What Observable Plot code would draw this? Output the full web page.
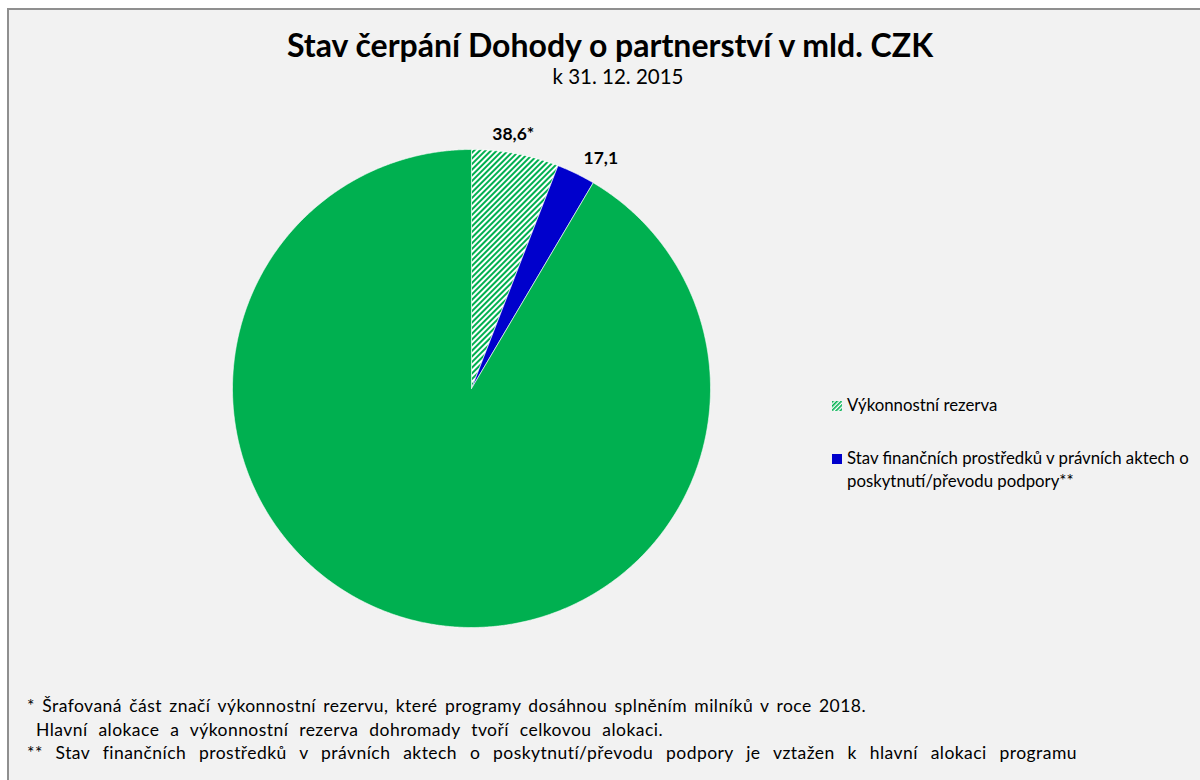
<!DOCTYPE html>
<html>
<head>
<meta charset="utf-8">
<script src="https://cdn.jsdelivr.net/npm/d3@7"></script>
<script src="https://cdn.jsdelivr.net/npm/@observablehq/plot@0.6"></script>
<style>
  html, body { margin: 0; padding: 0; background: #ffffff; }
  body { width: 1200px; height: 780px; position: relative; overflow: hidden; font-family: Lato, "Open Sans", sans-serif; color: #000; }
  #frame { position: absolute; left: 7px; top: 8px; width: 1200px; height: 790px; border: 2px solid #8f8f8f; background: #f2f2f2; box-sizing: border-box; }
  #chart { position: absolute; left: 0; top: 0; }
  .title { position: absolute; left: 0; width: 1220px; text-align: center; }
  #t1 { top: 25px; font-size: 32px; font-weight: 700; }
  #t2 { top: 64px; left: 8px; font-size: 20.5px; }
  .legend { position: absolute; left: 832px; font-size: 16.8px; line-height: 23px; }
  .sw { display: inline-block; width: 10px; height: 10px; margin-right: 5px; vertical-align: 0px; }
  .foot { position: absolute; font-size: 17.5px; letter-spacing: 0.45px; white-space: nowrap; text-align: justify; text-align-last: justify; }
</style>
</head>
<body>
<div id="frame"></div>
<div id="chart"></div>
<div class="title" id="t1">Stav čerpání Dohody o partnerství v mld. CZK</div>
<div class="title" id="t2">k 31. 12. 2015</div>
<div class="legend" id="lg1" style="top: 393px;"><svg class="sw" width="10" height="10" viewBox="0 0 10 10"><defs><pattern id="hatchL" width="3" height="3" patternUnits="userSpaceOnUse" patternTransform="rotate(45)"><rect width="3" height="3" fill="#ffffff"/><rect width="1.6" height="3" fill="#00b050"/></pattern></defs><rect width="10" height="10" fill="url(#hatchL)"/></svg><span id="lgt1"></span></div>
<div class="legend" id="lg2" style="top: 446px;"><span class="sw" style="background:#0000cc"></span><span id="lgt2"></span></div>
<div class="foot" style="left: 27px; top: 695px; width: 839px;">* Šrafovaná část značí výkonnostní rezervu, které programy dosáhnou splněním milníků v roce 2018.</div>
<div class="foot" style="left: 36px; top: 719px; width: 627px;">Hlavní alokace a výkonnostní rezerva dohromady tvoří celkovou alokaci.</div>
<div class="foot" style="left: 27px; top: 742px; width: 1050px;">** Stav finančních prostředků v právních aktech o poskytnutí/převodu podpory je vztažen k hlavní alokaci programu</div>
<script>
// ---- data ----
const categories = [
  "Výkonnostní rezerva",
  "Stav finančních prostředků v právních aktech o poskytnutí/převodu podpory**",
  "Hlavní alokace (zbývající)"
];
const values = [38.6, 17.1, 599.3];
const labels = ["38,6*", "17,1", ""];
const fills = ["url(#hatch)", "#0000cc", "#00b050"];

// legend texts
document.getElementById("lgt1").textContent = categories[0];
document.getElementById("lgt2").innerHTML = "Stav finančních prostředků v právních aktech o<br><span style='margin-left:15px'>poskytnutí/převodu podpory**</span>";

// ---- build pie geometry from data ----
const rows = categories.map((c, i) => ({category: c, value: values[i], label: labels[i], fill: fills[i]}));
const arcs = d3.pie().sort(null).value(d => d.value).startAngle(0).endAngle(2 * Math.PI)(rows);

const poly = [];
arcs.forEach(a => {
  poly.push({category: a.data.category, fill: a.data.fill, x: 0, y: 0});
  const n = Math.max(2, Math.ceil((a.endAngle - a.startAngle) / 0.005));
  for (let k = 0; k <= n; k++) {
    const t = a.startAngle + (a.endAngle - a.startAngle) * k / n;
    poly.push({category: a.data.category, fill: a.data.fill, x: Math.sin(t), y: Math.cos(t)});
  }
  poly.push({category: a.data.category, fill: a.data.fill, x: 0, y: 0});
});

// outside-end label placement
const labelData = arcs.filter(a => a.data.label).map(a => {
  const m = (a.startAngle + a.endAngle) / 2;
  const s = Math.sin(m), c = Math.cos(m);
  return {label: a.data.label, x: s * 0.74 + s * s * 1.14, y: c * 1.09 - s * 0.045};
});

const plot = Plot.plot({
  width: 1200,
  height: 780,
  marginLeft: 232,
  marginRight: 490,
  marginTop: 149,
  marginBottom: 153,
  x: {domain: [-1, 1], axis: null},
  y: {domain: [-1, 1], axis: null},
  color: {type: "identity"},
  style: {background: "transparent", overflow: "visible"},
  marks: [
    Plot.line(poly, {x: "x", y: "y", z: "category", fill: "fill", stroke: "#ffffff", strokeWidth: 0.6, curve: "linear"}),
    Plot.text(labelData, {x: "x", y: "y", text: "label", fontSize: 17.5, fontWeight: "bold", fill: "#000", fontFamily: "Lato, 'Open Sans', sans-serif"})
  ]
});

// hatch pattern definition
const ns = "http://www.w3.org/2000/svg";
const defs = document.createElementNS(ns, "defs");
defs.innerHTML = '<pattern id="hatch" width="4" height="4" patternUnits="userSpaceOnUse" patternTransform="rotate(45)"><rect width="4" height="4" fill="#ffffff"/><rect width="2" height="4" fill="#00b050"/></pattern>';
plot.insertBefore(defs, plot.firstChild);
document.getElementById("chart").appendChild(plot);
</script>
</body>
</html>
